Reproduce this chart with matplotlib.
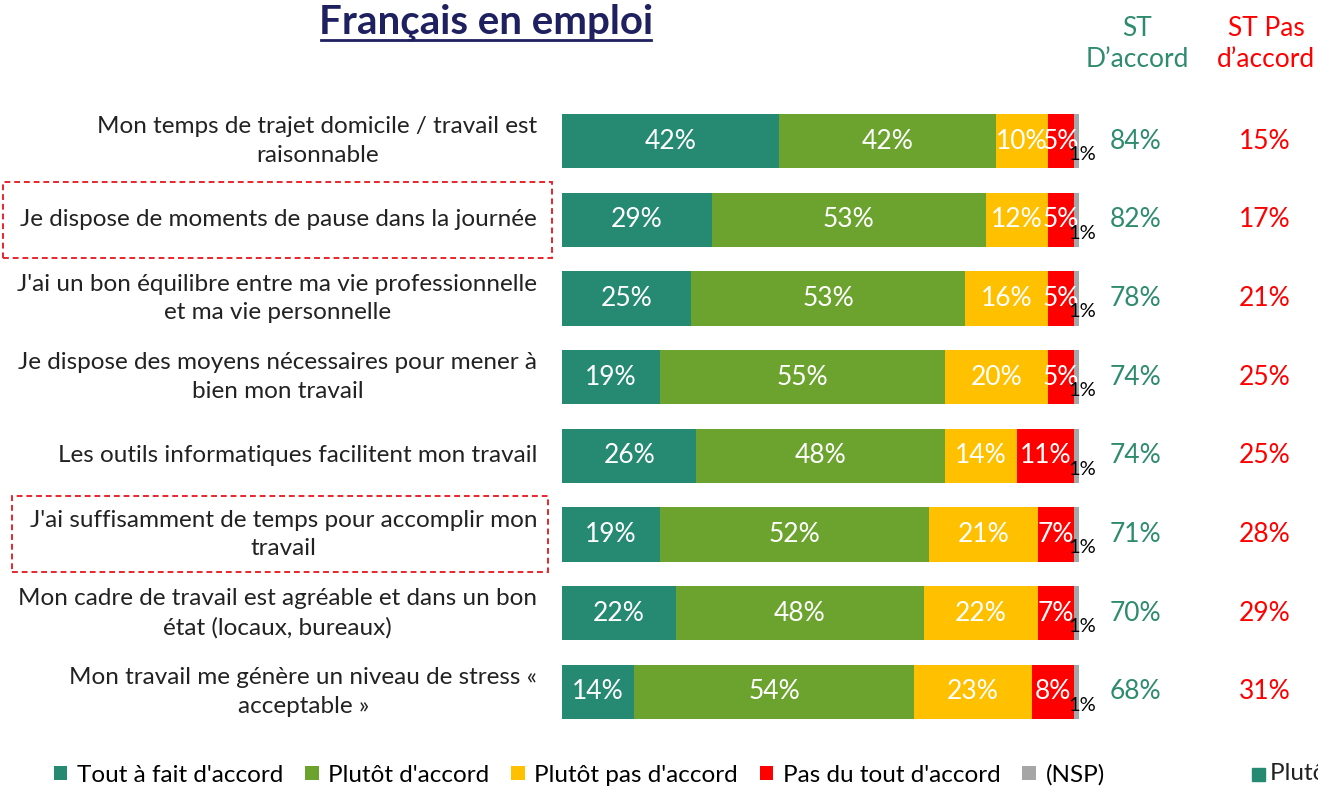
import numpy as np
import matplotlib
matplotlib.use("Agg")
import matplotlib.pyplot as plt
from matplotlib.patches import Patch, Rectangle

plt.rcParams["font.family"] = ["Lato", "DejaVu Sans"]

ITEMS = [
    "Mon temps de trajet domicile / travail est\nraisonnable",
    "Je dispose de moments de pause dans la journée",
    "J'ai un bon équilibre entre ma vie professionnelle\net ma vie personnelle",
    "Je dispose des moyens nécessaires pour mener à\nbien mon travail",
    "Les outils informatiques facilitent mon travail",
    "J'ai suffisamment de temps pour accomplir mon\ntravail",
    "Mon cadre de travail est agréable et dans un bon\nétat (locaux, bureaux)",
    "Mon travail me génère un niveau de stress «\nacceptable »",
]
tout_fait = [42, 29, 25, 19, 26, 19, 22, 14]
plutot = [42, 53, 53, 55, 48, 52, 48, 54]
plutot_pas = [10, 12, 16, 20, 14, 21, 22, 23]
pas_du_tout = [5, 5, 5, 5, 11, 7, 7, 8]
nsp = [1, 1, 1, 1, 1, 1, 1, 1]
st_accord = [84, 82, 78, 74, 74, 71, 70, 68]
st_pas = [15, 17, 21, 25, 25, 28, 29, 31]
highlighted = [1, 5]

SERIES = ["Tout à fait d'accord", "Plutôt d'accord", "Plutôt pas d'accord",
          "Pas du tout d'accord", "(NSP)"]
COLORS = ["#268A72", "#6BA32E", "#FFC000", "#FF0000", "#A6A6A6"]
TEAL, RED, NAVY = "#2E8B6E", "#FF0000", "#1F2060"

W, H = 1318, 787
fig = plt.figure(figsize=(W / 100, H / 100), dpi=100)

# bar area in pixel terms: x 562..1079, rows from y=102 to 731
x0, x1, y0, y1 = 562, 1079, 102, 731
ax = fig.add_axes([x0 / W, 1 - y1 / H, (x1 - x0) / W, (y1 - y0) / H])
ax.set_xlim(0, 100)
ax.set_ylim(len(ITEMS) - 0.5, -0.5)
ax.axis("off")

vals = np.array([tout_fait, plutot, plutot_pas, pas_du_tout, nsp], dtype=float)
ypos = np.arange(len(ITEMS))
left = np.zeros(len(ITEMS))
for k, (v, c) in enumerate(zip(vals, COLORS)):
    ax.barh(ypos, v, left=left, height=0.69, color=c, edgecolor="none")
    for i in range(len(ITEMS)):
        if k < 4:
            ax.text(left[i] + v[i] / 2, ypos[i], f"{v[i]:.0f}%", ha="center",
                    va="center", color="white", fontsize=19)
        else:
            ax.text(left[i] + v[i] + 0.6, ypos[i] + 0.17, f"{v[i]:.0f}%",
                    ha="center", va="center", color="black", fontsize=14.5)
    left += v

# question labels, right-aligned against the bars
for i, lab in enumerate(ITEMS):
    ax.text(-4.8, ypos[i], lab, ha="right", va="center", multialignment="center",
            fontsize=17.5, color="#222222", linespacing=1.45)

# summary columns
for i in range(len(ITEMS)):
    ax.text(111, ypos[i], f"{st_accord[i]}%", ha="center", va="center",
            color=TEAL, fontsize=19)
    ax.text(136, ypos[i], f"{st_pas[i]}%", ha="center", va="center",
            color=RED, fontsize=19)
fig.text(1137 / W, 1 - 44 / H, "ST\nD\u2019accord", ha="center", va="center",
         color=TEAL, fontsize=19, linespacing=1.3)
fig.text(1266 / W, 1 - 44 / H, "ST Pas\nd\u2019accord", ha="center", va="center",
         color=RED, fontsize=19, linespacing=1.3)

# highlight boxes around two of the questions
for i, (bx0, bx1) in zip(highlighted, [(3, 552), (12, 548)]):
    yc = y0 + (i + 0.5) * (y1 - y0) / len(ITEMS)
    fig.patches.append(Rectangle((bx0 / W, 1 - (yc + 38) / H), (bx1 - bx0) / W, 76 / H,
                                 transform=fig.transFigure, fill=False,
                                 edgecolor="#E8262B", lw=1.4, ls=(0, (3, 2))))

# title
fig.text(486 / W, 1 - 22 / H, "Français en emploi", ha="center", va="center",
         fontsize=29, fontweight="bold", color=NAVY)
fig.add_artist(plt.Line2D([321 / W, 651 / W], [1 - 40 / H, 1 - 40 / H], color=NAVY, lw=2))

handles = [Patch(facecolor=c, edgecolor="none") for c in COLORS]
fig.legend(handles, SERIES, loc="center left", bbox_to_anchor=(54 / W, 1 - 775 / H),
           ncol=5, frameon=False, fontsize=17.5, handlelength=0.55, handleheight=0.55,
           handletextpad=0.4, columnspacing=0.9, borderaxespad=0, borderpad=0)
fig.patches.append(Rectangle((1252 / W, 1 - 781 / H), 13 / W, 13 / H,
                             transform=fig.transFigure, color=COLORS[0]))
fig.text(1270 / W, 1 - 774 / H, SERIES[1], ha="left", va="center",
         fontsize=17.5, color="#222222")

fig.savefig("out.png", dpi=100)
